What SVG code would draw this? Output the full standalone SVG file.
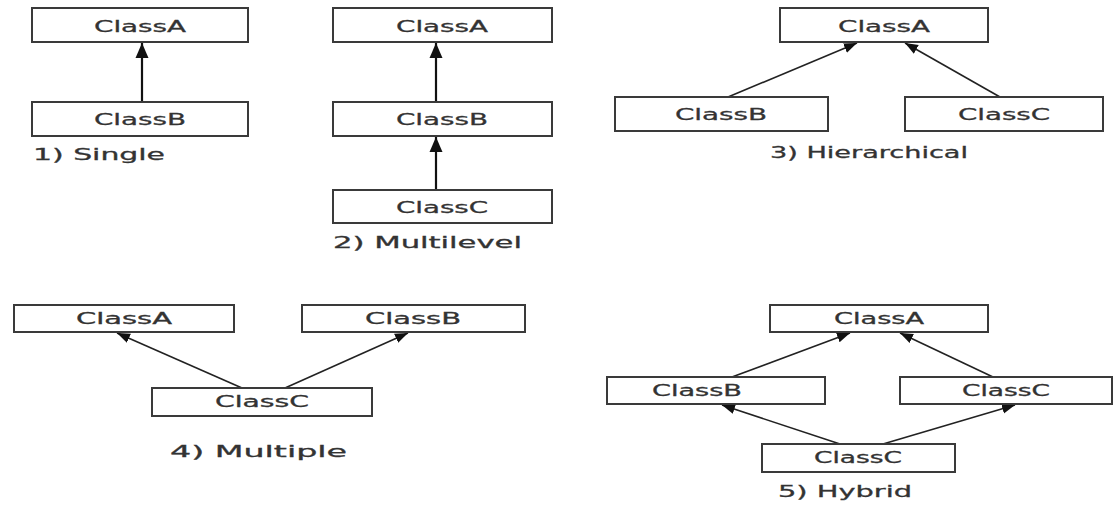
<svg xmlns="http://www.w3.org/2000/svg" width="1120" height="507" viewBox="0 0 1120 507">
<style>
.box{fill:#fff;stroke:#3a3a3a;stroke-width:2}
.t{font-family:"DejaVu Sans",Verdana,sans-serif;font-size:16px;fill:#333;stroke:#333;stroke-width:0.3;text-anchor:middle}
.ts{font-size:15px}
.cap{font-family:"DejaVu Sans",Verdana,sans-serif;font-size:16px;fill:#333;stroke:#333;stroke-width:0.3}
.ln{stroke:#222;stroke-width:1.6;fill:none;marker-end:url(#ah)}
.lnb{stroke:#111;stroke-width:2.2;fill:none;marker-end:url(#ahb)}
</style>
<defs>
<marker id="ah" markerUnits="userSpaceOnUse" markerWidth="14" markerHeight="12" viewBox="0 0 14 12" refX="13" refY="6" orient="auto">
<path d="M0,1 L13,6 L0,11 Z" fill="#111"/>
</marker>
<marker id="ahb" markerUnits="userSpaceOnUse" markerWidth="16" markerHeight="14" viewBox="0 0 16 14" refX="15" refY="7" orient="auto">
<path d="M0,0.5 L15,7 L0,13.5 Z" fill="#111"/>
</marker>
</defs>
<rect width="1120" height="507" fill="#fff"/>
<g id="connectors">
<line class="lnb" x1="142" y1="102" x2="142" y2="43"/>
<line class="lnb" x1="436" y1="102" x2="436" y2="43"/>
<line class="lnb" x1="436" y1="190" x2="436" y2="137"/>
<line class="ln" x1="728" y1="97" x2="857" y2="43"/>
<line class="ln" x1="1000" y1="97" x2="905" y2="43"/>
<line class="ln" x1="242" y1="388" x2="117" y2="333"/>
<line class="ln" x1="285" y1="388" x2="408" y2="333"/>
<line class="ln" x1="732" y1="377" x2="850" y2="333"/>
<line class="ln" x1="993" y1="377" x2="900" y2="333"/>
<line class="ln" x1="840" y1="444" x2="722" y2="405"/>
<line class="ln" x1="883" y1="444" x2="1015" y2="405"/>
</g>
<g id="single-A"><rect class="box" x="32" y="8" width="216" height="34"/><text class="t" x="140" y="32" textLength="92" lengthAdjust="spacingAndGlyphs">ClassA</text></g>
<g id="single-B"><rect class="box" x="32" y="102" width="216" height="34"/><text class="t" x="140" y="125" textLength="92" lengthAdjust="spacingAndGlyphs">ClassB</text></g>
<g id="cap1"><text class="cap" x="33" y="160" textLength="132" lengthAdjust="spacingAndGlyphs">1)  Single</text></g>
<g id="multi-A"><rect class="box" x="333" y="8" width="219" height="34"/><text class="t" x="442" y="32" textLength="92" lengthAdjust="spacingAndGlyphs">ClassA</text></g>
<g id="multi-B"><rect class="box" x="333" y="102" width="219" height="34"/><text class="t" x="442" y="125" textLength="92" lengthAdjust="spacingAndGlyphs">ClassB</text></g>
<g id="multi-C"><rect class="box" x="333" y="190" width="219" height="33"/><text class="t" x="442" y="213" textLength="92" lengthAdjust="spacingAndGlyphs">ClassC</text></g>
<g id="cap2"><text class="cap" x="333" y="248" textLength="189" lengthAdjust="spacingAndGlyphs">2) Multilevel</text></g>
<g id="hier-A"><rect class="box" x="780" y="8" width="208" height="34"/><text class="t" x="884" y="32" textLength="92" lengthAdjust="spacingAndGlyphs">ClassA</text></g>
<g id="hier-B"><rect class="box" x="615" y="97" width="213" height="34"/><text class="t" x="721" y="120" textLength="92" lengthAdjust="spacingAndGlyphs">ClassB</text></g>
<g id="hier-C"><rect class="box" x="905" y="97" width="198" height="34"/><text class="t" x="1004" y="120" textLength="92" lengthAdjust="spacingAndGlyphs">ClassC</text></g>
<g id="cap3"><text class="cap" x="770" y="158" textLength="198" lengthAdjust="spacingAndGlyphs">3) Hierarchical</text></g>
<g id="mult-A"><rect class="box" x="14" y="305" width="220" height="27"/><text class="t ts" x="124" y="324" textLength="96" lengthAdjust="spacingAndGlyphs">ClassA</text></g>
<g id="mult-B"><rect class="box" x="302" y="305" width="223" height="27"/><text class="t ts" x="413" y="324" textLength="96" lengthAdjust="spacingAndGlyphs">ClassB</text></g>
<g id="mult-C"><rect class="box" x="152" y="388" width="220" height="28"/><text class="t ts" x="262" y="407" textLength="94" lengthAdjust="spacingAndGlyphs">ClassC</text></g>
<g id="cap4"><text class="cap" x="170" y="457" textLength="177" lengthAdjust="spacingAndGlyphs">4)  Multiple</text></g>
<g id="hyb-A"><rect class="box" x="770" y="305" width="218" height="27"/><text class="t ts" x="879" y="324" textLength="90" lengthAdjust="spacingAndGlyphs">ClassA</text></g>
<g id="hyb-B"><rect class="box" x="607" y="377" width="218" height="27"/><text class="t ts" x="697" y="396" textLength="90" lengthAdjust="spacingAndGlyphs">ClassB</text></g>
<g id="hyb-C1"><rect class="box" x="900" y="377" width="212" height="27"/><text class="t ts" x="1006" y="396" textLength="88" lengthAdjust="spacingAndGlyphs">ClassC</text></g>
<g id="hyb-C2"><rect class="box" x="762" y="444" width="193" height="28"/><text class="t ts" x="858" y="463" textLength="88" lengthAdjust="spacingAndGlyphs">ClassC</text></g>
<g id="cap5"><text class="cap" x="778" y="497" textLength="134" lengthAdjust="spacingAndGlyphs">5) Hybrid</text></g>
</svg>
